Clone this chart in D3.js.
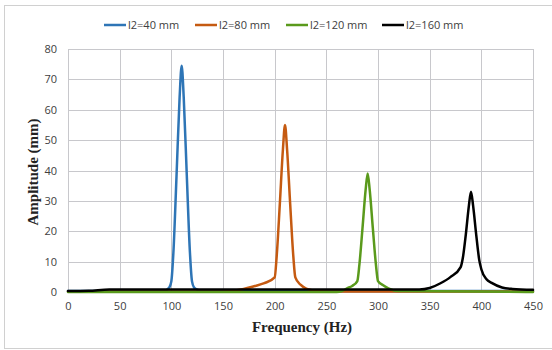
<!DOCTYPE html>
<html><head><meta charset="utf-8">
<script src="https://cdn.jsdelivr.net/npm/d3@7"></script>
<style>body{margin:0;background:#fff;}svg{display:block;}</style>
</head><body>
<svg id="c" width="552" height="350"></svg>
<script>
const seriesNames = ["l2=40 mm", "l2=80 mm", "l2=120 mm", "l2=160 mm"];
const seriesColors = ["#2E75B6", "#C55A11", "#5A9A1C", "#000000"];
const xTicks = [0, 50, 100, 150, 200, 250, 300, 350, 400, 450];
const yTicks = [0, 10, 20, 30, 40, 50, 60, 70, 80];

const freq40  = [0, 50, 90, 95, 98, 100, 102, 105, 108, 110, 112, 115, 118, 120, 122, 125, 130, 150, 200, 450];
const amp40   = [0.3, 0.3, 0.3, 0.6, 1.5, 3.5, 13, 38, 64, 74.5, 64, 38, 13, 3.5, 1.5, 0.8, 0.5, 0.5, 0.3, 0.3];
const freq80  = [0, 150, 160, 170, 180, 190, 200, 202, 205, 208, 210, 212, 215, 218, 220, 225, 230, 240, 250, 450];
const amp80   = [0.2, 0.2, 0.4, 1, 1.9, 2.9, 4.8, 12, 29, 47, 55, 47, 29, 12, 4.8, 2.4, 1.2, 0.4, 0.2, 0.2];
const freq120 = [0, 260, 265, 270, 275, 280, 282, 285, 288, 290, 292, 295, 298, 300, 305, 310, 320, 450];
const amp120  = [0, 0, 0.3, 1.2, 2, 3.6, 9, 21, 33.5, 39, 33.5, 21, 9, 3.6, 2.2, 1.2, 0.3, 0];
const freq160 = [0, 20, 40, 100, 200, 300, 340, 350, 360, 370, 380, 382, 385, 388, 390, 392, 395, 398, 400, 405, 410, 420, 430, 450];
const amp160  = [0.3, 0.4, 0.8, 0.8, 0.8, 0.8, 0.8, 1.3, 2.8, 4.9, 8.2, 11, 19, 28.5, 33, 28.5, 19, 10.5, 7.5, 4.2, 3, 1.5, 1, 0.7];

const seriesFreq = [freq40, freq80, freq120, freq160];
const seriesAmp = [amp40, amp80, amp120, amp160];

const svg = d3.select("#c");
const x = d3.scaleLinear().domain([0, 450]).range([68, 533]);
const y = d3.scaleLinear().domain([0, 80]).range([292, 49]);

// outer border
svg.append("rect").attr("x", 4.5).attr("y", 5.5).attr("width", 560).attr("height", 343)
  .attr("fill", "none").attr("stroke", "#d0d0d0").attr("stroke-width", 1);

// grid
const grid = svg.append("g");
grid.selectAll("line.h").data(yTicks).join("line")
  .attr("x1", x(0)).attr("x2", x(450))
  .attr("y1", d => Math.round(y(d)) + 0.5).attr("y2", d => Math.round(y(d)) + 0.5)
  .attr("stroke", "#c8c8cc").attr("stroke-width", 1);
grid.selectAll("line.v").data(xTicks).join("line")
  .attr("y1", y(0)).attr("y2", y(80))
  .attr("x1", d => Math.round(x(d)) + 0.5).attr("x2", d => Math.round(x(d)) + 0.5)
  .attr("stroke", "#c8c8cc").attr("stroke-width", 1);

// axes (labels only)
const fontTick = "'Open Sans', 'Liberation Sans', sans-serif";
const xAxis = svg.append("g").attr("transform", `translate(0,${y(0)})`)
  .call(d3.axisBottom(x).tickValues(xTicks).tickSize(0).tickPadding(10));
xAxis.select(".domain").remove();
xAxis.selectAll("text").attr("font-family", fontTick).attr("font-size", 11).attr("fill", "#404040");

const yAxis = svg.append("g").attr("transform", `translate(${x(0)},0)`)
  .call(d3.axisLeft(y).tickValues(yTicks).tickSize(0).tickPadding(11));
yAxis.select(".domain").remove();
yAxis.selectAll("text").attr("font-family", fontTick).attr("font-size", 11).attr("fill", "#404040");

// lines
const line = d3.line().curve(d3.curveMonotoneX);
seriesNames.forEach((name, i) => {
  const pts = seriesFreq[i].map((f, k) => [x(f), y(seriesAmp[i][k])]);
  svg.append("path").attr("d", line(pts)).attr("fill", "none")
    .attr("stroke", seriesColors[i]).attr("stroke-width", 2.5)
    .attr("stroke-linejoin", "round").attr("stroke-linecap", "round");
});

// axis titles
const fontTitle = "'Liberation Serif', 'Times New Roman', serif";
svg.append("text").attr("x", 302).attr("y", 332).attr("text-anchor", "middle")
  .attr("font-family", fontTitle).attr("font-weight", "bold").attr("font-size", 15)
  .attr("fill", "#222").text("Frequency (Hz)");
svg.append("text").attr("transform", "translate(38,172) rotate(-90)").attr("text-anchor", "middle")
  .attr("font-family", fontTitle).attr("font-weight", "bold").attr("font-size", 15)
  .attr("fill", "#222").text("Amplitude (mm)");

// legend
const legendX = [104, 195, 286, 382];
const lg = svg.append("g");
seriesNames.forEach((name, i) => {
  const g = lg.append("g").attr("transform", `translate(${legendX[i]},25)`);
  g.append("line").attr("x1", 0).attr("x2", 22).attr("y1", 0).attr("y2", 0)
    .attr("stroke", seriesColors[i]).attr("stroke-width", 2.5);
  g.append("text").attr("x", 24).attr("y", 4).attr("font-family", fontTick)
    .attr("font-size", 11).attr("fill", "#404040").text(name);
});
</script>
</body></html>
